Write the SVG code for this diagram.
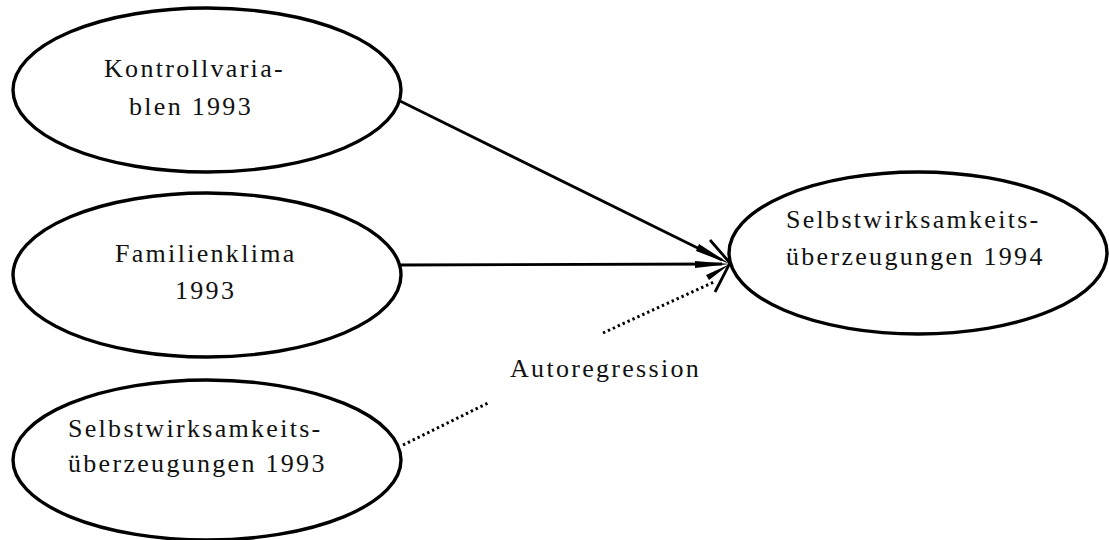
<svg xmlns="http://www.w3.org/2000/svg" width="1109" height="540" viewBox="0 0 1109 540">
  <style>
    .node { fill: #ffffff; stroke: #000000; stroke-width: 3.4; }
    .label { font-family: "Liberation Serif", "Times New Roman", serif; font-size: 26px; letter-spacing: 2.3px; fill: #111111; }
    .path { stroke: #000000; stroke-width: 2.8; fill: none; }
    .dotted { stroke: #000000; stroke-width: 3; fill: none; stroke-dasharray: 2.4 3; }
    .head { fill: #000000; stroke: none; }
  </style>
  <rect width="1109" height="540" fill="#ffffff"/>

  <g id="connectors">
    <!-- Kontrollvariablen 1993 -> Selbstwirksamkeit 1994 -->
    <line class="path" x1="400" y1="101" x2="722" y2="260"/>
    <polygon class="head" points="730,264 696,251 699,244"/>
    <!-- Familienklima 1993 -> Selbstwirksamkeit 1994 -->
    <line class="path" x1="401" y1="265" x2="722" y2="264"/>
    <polygon class="head" points="730,264 695,261 695,268"/>
    <!-- Autoregression (dotted, interrupted by its label) -->
    <line class="dotted" x1="403" y1="445" x2="488" y2="403"/>
    <line class="dotted" x1="603" y1="333" x2="714" y2="282"/>
    <polygon class="head" points="730,264 709,280 706,275"/>
    <!-- open arrowhead at the target -->
    <polyline class="path" stroke-width="3.2" points="710,240 730,263 715,292"/>
  </g>

  <g id="node-kontrollvariablen">
    <ellipse class="node" cx="207" cy="90" rx="194" ry="82"/>
    <text class="label" x="104" y="77">Kontrollvaria-</text>
    <text class="label" x="129" y="115">blen 1993</text>
  </g>

  <g id="node-familienklima">
    <ellipse class="node" cx="207" cy="275" rx="194" ry="82"/>
    <text class="label" x="115" y="262">Familienklima</text>
    <text class="label" x="175" y="299">1993</text>
  </g>

  <g id="node-swe-1993">
    <ellipse class="node" cx="207" cy="460" rx="194" ry="80"/>
    <text class="label" x="68" y="437">Selbstwirksamkeits-</text>
    <text class="label" x="68" y="472">überzeugungen 1993</text>
  </g>

  <g id="node-swe-1994">
    <ellipse class="node" cx="918" cy="253" rx="189" ry="81"/>
    <text class="label" x="786" y="228">Selbstwirksamkeits-</text>
    <text class="label" x="786" y="265">überzeugungen 1994</text>
  </g>

  <text id="label-autoregression" class="label" x="510" y="377">Autoregression</text>
</svg>
